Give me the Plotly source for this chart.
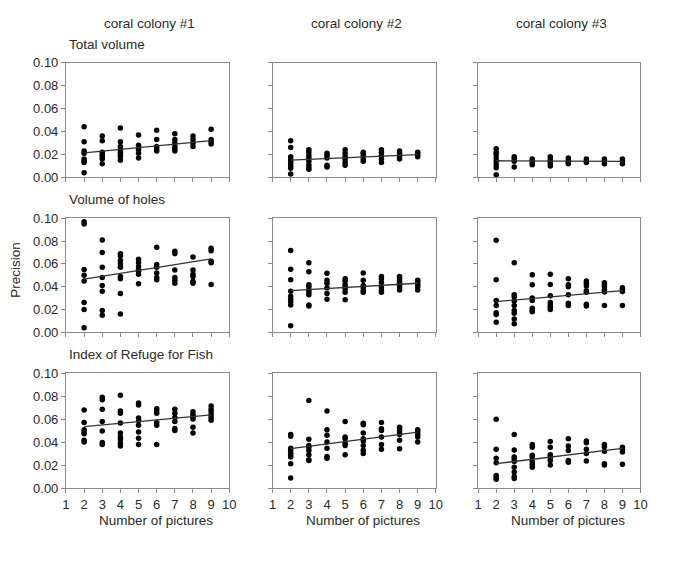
import plotly.graph_objects as go

# ---------------- data ----------------
n_pictures = [2, 3, 4, 5, 6, 7, 8, 9]
colony_titles = ["coral colony #1", "coral colony #2", "coral colony #3"]
row_titles = ["Total volume", "Volume of holes", "Index of Refuge for Fish"]
y_ticks = [0.00, 0.02, 0.04, 0.06, 0.08, 0.10]
x_ticks = [1, 2, 3, 4, 5, 6, 7, 8, 9, 10]

# Total volume
tv_c1 = [[0.044, 0.031, 0.023, 0.021, 0.016, 0.014, 0.013, 0.004],
         [0.036, 0.032, 0.022, 0.020, 0.018, 0.016, 0.012],
         [0.043, 0.031, 0.027, 0.024, 0.022, 0.020, 0.018, 0.015],
         [0.037, 0.028, 0.026, 0.024, 0.021, 0.017],
         [0.041, 0.033, 0.027, 0.025, 0.023],
         [0.038, 0.033, 0.030, 0.027, 0.025, 0.023],
         [0.036, 0.033, 0.030, 0.027],
         [0.042, 0.033, 0.031, 0.029]]
tv_c2 = [[0.032, 0.026, 0.018, 0.016, 0.014, 0.012, 0.010, 0.008, 0.003],
         [0.024, 0.022, 0.019, 0.017, 0.014, 0.011, 0.009, 0.007],
         [0.021, 0.019, 0.017, 0.0105, 0.009],
         [0.024, 0.021, 0.018, 0.0156, 0.013, 0.0105],
         [0.022, 0.021, 0.019, 0.016, 0.014],
         [0.024, 0.022, 0.019, 0.016, 0.013],
         [0.023, 0.021, 0.018, 0.016],
         [0.022, 0.020, 0.018]]
tv_c3 = [[0.025, 0.022, 0.020, 0.017, 0.014, 0.011, 0.0085, 0.0023],
         [0.018, 0.016, 0.014, 0.009],
         [0.016, 0.014, 0.012, 0.011],
         [0.018, 0.016, 0.014, 0.012, 0.010],
         [0.017, 0.015, 0.013, 0.012],
         [0.016, 0.014, 0.013],
         [0.016, 0.014, 0.012],
         [0.016, 0.014, 0.012]]

# Volume of holes
vh_c1 = [[0.097, 0.095, 0.055, 0.050, 0.045, 0.026, 0.020, 0.004],
         [0.081, 0.070, 0.057, 0.048, 0.041, 0.036, 0.019, 0.015],
         [0.069, 0.067, 0.063, 0.060, 0.057, 0.049, 0.047, 0.034, 0.016],
         [0.064, 0.061, 0.0575, 0.055, 0.0535, 0.051, 0.0425],
         [0.0745, 0.0595, 0.057, 0.052, 0.048, 0.046],
         [0.071, 0.069, 0.0547, 0.048, 0.0456, 0.043],
         [0.066, 0.0547, 0.051, 0.049, 0.0448, 0.043],
         [0.0737, 0.0715, 0.0623, 0.061, 0.042]]
vh_c2 = [[0.0717, 0.0552, 0.046, 0.036, 0.0316, 0.029, 0.027, 0.024, 0.0057],
         [0.061, 0.053, 0.0416, 0.040, 0.037, 0.035, 0.033, 0.024, 0.023],
         [0.0518, 0.0456, 0.043, 0.039, 0.034, 0.029],
         [0.047, 0.045, 0.042, 0.040, 0.038, 0.035, 0.0286],
         [0.052, 0.0456, 0.041, 0.039, 0.0365, 0.035],
         [0.049, 0.047, 0.0436, 0.040, 0.037, 0.035],
         [0.049, 0.047, 0.045, 0.043, 0.041, 0.039, 0.037],
         [0.0456, 0.044, 0.0416, 0.040, 0.037]]
vh_c3 = [[0.0807, 0.046, 0.0278, 0.0235, 0.017, 0.0156, 0.0088],
         [0.061, 0.033, 0.031, 0.0275, 0.0235, 0.019, 0.0167, 0.0116, 0.0074],
         [0.0504, 0.0416, 0.030, 0.0278, 0.021, 0.019, 0.018],
         [0.051, 0.042, 0.032, 0.026, 0.024, 0.022, 0.020],
         [0.047, 0.0416, 0.040, 0.033, 0.0255, 0.0235],
         [0.045, 0.043, 0.0405, 0.0365, 0.035, 0.0246, 0.023],
         [0.0434, 0.0416, 0.040, 0.0374, 0.0354, 0.0235],
         [0.039, 0.0377, 0.0357, 0.0235]]

# Index of Refuge for Fish
rf_c1 = [[0.068, 0.057, 0.0507, 0.0487, 0.0473, 0.0416, 0.040],
         [0.079, 0.0768, 0.0686, 0.058, 0.0496, 0.0397, 0.038],
         [0.0807, 0.067, 0.065, 0.0567, 0.048, 0.0445, 0.042, 0.039, 0.0365],
         [0.074, 0.0722, 0.061, 0.0586, 0.0547, 0.0487, 0.0433, 0.038],
         [0.069, 0.067, 0.065, 0.057, 0.0547, 0.038],
         [0.0686, 0.065, 0.0615, 0.058, 0.0518, 0.050],
         [0.0663, 0.064, 0.062, 0.060, 0.053, 0.048],
         [0.0714, 0.0686, 0.0663, 0.0637, 0.0615, 0.059]]
rf_c2 = [[0.0465, 0.045, 0.0346, 0.0326, 0.0303, 0.0283, 0.027, 0.0212, 0.0088],
         [0.0762, 0.0425, 0.037, 0.0354, 0.0326, 0.029, 0.0246, 0.024],
         [0.067, 0.0507, 0.046, 0.040, 0.0346, 0.0275, 0.026],
         [0.058, 0.0445, 0.043, 0.039, 0.037, 0.029],
         [0.0564, 0.055, 0.048, 0.043, 0.041, 0.037, 0.033, 0.030],
         [0.057, 0.0516, 0.050, 0.0445, 0.038, 0.0337],
         [0.053, 0.0507, 0.0487, 0.0467, 0.0416, 0.0343],
         [0.0507, 0.0487, 0.0467, 0.0445, 0.040]]
rf_c3 = [[0.0598, 0.0337, 0.026, 0.022, 0.0110, 0.0093, 0.0076],
         [0.0467, 0.0331, 0.027, 0.0255, 0.023, 0.018, 0.014, 0.010, 0.0082],
         [0.038, 0.0354, 0.0286, 0.027, 0.023, 0.0207, 0.018],
         [0.0405, 0.0354, 0.029, 0.027, 0.024, 0.020],
         [0.0428, 0.0365, 0.0326, 0.024, 0.0224],
         [0.041, 0.0394, 0.0337, 0.030, 0.0235],
         [0.038, 0.036, 0.032, 0.0212, 0.020],
         [0.0354, 0.0337, 0.0314, 0.0207]]

# regression line values at 2 and 9 pictures
fit_x = [2, 9]
fit_tv = [[0.0213, 0.0321], [0.0150, 0.0199], [0.0145, 0.0139]]
fit_vh = [[0.0467, 0.0643], [0.0365, 0.0430], [0.0269, 0.0365]]
fit_rf = [[0.0535, 0.0637], [0.0343, 0.0487], [0.0212, 0.0346]]

panels = [[tv_c1, tv_c2, tv_c3], [vh_c1, vh_c2, vh_c3], [rf_c1, rf_c2, rf_c3]]
fits = [fit_tv, fit_vh, fit_rf]

# ---------------- layout geometry ----------------
W, H = 676, 572
col_px = [(63, 229), (273, 439), (482, 647)]
row_px = [(57, 175), (217, 334), (376, 494)]

FONT = "Liberation Sans, Arial, sans-serif"
TXT = "#2a2a2a"
AXC = "#8a8a8a"

fig = go.Figure()
layout = dict(
    width=W, height=H, margin=dict(l=0, r=0, t=0, b=0),
    paper_bgcolor="white", plot_bgcolor="white", showlegend=False,
    font=dict(family=FONT, color=TXT, size=12.5),
)

annotations = []
k = 0
for r in range(3):
    for c in range(3):
        k += 1
        xa = "x" if k == 1 else f"x{k}"
        ya = "y" if k == 1 else f"y{k}"
        xs, ys = [], []
        for n, vals in zip(n_pictures, panels[r][c]):
            xs += [n] * len(vals)
            ys += vals
        fig.add_trace(go.Scatter(x=xs, y=ys, mode="markers", xaxis=xa, yaxis=ya,
                                 marker=dict(color="black", size=5.5)))
        fig.add_trace(go.Scatter(x=fit_x, y=fits[r][c], mode="lines", xaxis=xa, yaxis=ya,
                                 line=dict(color="#333333", width=1.3)))
        x0, x1 = col_px[c]
        y0, y1 = row_px[r]
        layout[f"xaxis{'' if k == 1 else k}"] = dict(
            domain=[x0 / W, x1 / W], anchor=ya, range=[1, 10],
            tickmode="array", tickvals=x_ticks, showticklabels=(r == 2),
            ticks="outside", ticklen=4, tickcolor=AXC, showline=True, linecolor=AXC,
            linewidth=1, mirror=True, showgrid=False, zeroline=False,
            tickfont=dict(size=13, color=TXT),
        )
        layout[f"yaxis{'' if k == 1 else k}"] = dict(
            domain=[1 - y1 / H, 1 - y0 / H], anchor=xa, range=[0, 0.10],
            tickmode="array", tickvals=y_ticks, tickformat=".2f",
            showticklabels=(c == 0),
            ticks="outside", ticklen=4, tickcolor=AXC, showline=True, linecolor=AXC,
            linewidth=1, mirror=True, showgrid=False, zeroline=False,
            tickfont=dict(size=13, color=TXT),
        )

# column titles
for c, t in enumerate(colony_titles):
    x0, x1 = col_px[c]
    annotations.append(dict(text=t, x=(x0 + x1) / 2 / W + 2 / W, y=1 - 17 / H,
                            xref="paper", yref="paper", showarrow=False,
                            xanchor="center", yanchor="middle",
                            font=dict(size=13.5, color=TXT)))
# row titles
for r, t in enumerate(row_titles):
    y0 = row_px[r][0]
    annotations.append(dict(text=t, x=64 / W, y=1 - (y0 - 19) / H,
                            xref="paper", yref="paper", showarrow=False,
                            xanchor="left", yanchor="middle",
                            font=dict(size=13.5, color=TXT)))
# x axis titles
for c in range(3):
    x0, x1 = col_px[c]
    annotations.append(dict(text="Number of pictures", x=((x0 + x1) / 2 + 9) / W,
                            y=1 - 527 / H, xref="paper", yref="paper", showarrow=False,
                            xanchor="center", yanchor="middle",
                            font=dict(size=13.5, color=TXT)))
# y axis title
annotations.append(dict(text="Precision", x=12 / W, y=1 - 270 / H, xref="paper",
                        yref="paper", showarrow=False, textangle=-90,
                        xanchor="center", yanchor="middle",
                        font=dict(size=13.5, color=TXT)))
layout["annotations"] = annotations
fig.update_layout(**layout)
fig.write_html("out.html", config={"displayModeBar": False},
               post_script="document.body.style.margin='0';document.body.style.overflow='hidden';")
